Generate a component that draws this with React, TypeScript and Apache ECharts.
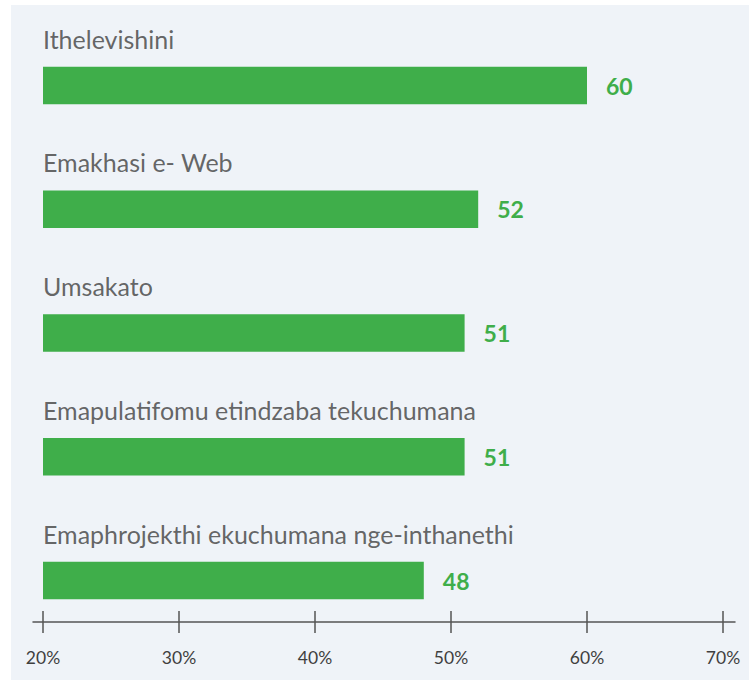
import React, { useEffect, useRef } from "react";
import * as echarts from "echarts";

const categories = [
  "Ithelevishini",
  "Emakhasi e- Web",
  "Umsakato",
  "Emapulatifomu etindzaba tekuchumana",
  "Emaphrojekthi ekuchumana nge-inthanethi",
];
const values = [60, 52, 51, 51, 48];
const axisMin = 20;
const axisMax = 70;
const axisStep = 10;

const GREEN = "#3fae4a";
const TEXT = "#3f3f3f";
const AXIS = "#555555";
const FONT = "Lato, 'Noto Sans', sans-serif";

export default function App() {
  const ref = useRef<HTMLDivElement>(null);
  useEffect(() => {
    if (!ref.current) return;
    const chart = echarts.init(ref.current, undefined, { renderer: "svg" });
    const gridTop = 85.5;
    const gridBottom = 99.5;
    chart.setOption({
      animation: false,
      backgroundColor: "transparent",
      graphic: [
        {
          type: "rect",
          left: 11,
          top: 5,
          shape: { width: 738, height: 675 },
          style: { fill: "#eff3f8" },
          z: -10,
          silent: true,
        },
      ],
      grid: [
        { left: 43, right: 26, top: gridTop, bottom: gridBottom },
        { left: 33, right: 14, top: gridTop, bottom: gridBottom },
      ],
      xAxis: [
        {
          type: "value",
          gridIndex: 0,
          min: axisMin,
          max: axisMax,
          interval: axisStep,
          position: "bottom",
          offset: 41.5,
          axisLine: { show: false },
          axisTick: { show: true, length: 11, inside: false, lineStyle: { color: AXIS, width: 1.5 } },
          splitLine: { show: false },
          axisLabel: {
            color: TEXT,
            fontFamily: FONT,
            fontSize: 17.5,
            margin: 26,
            formatter: (v: number) => v + "%",
          },
        },
        {
          type: "value",
          gridIndex: 0,
          min: axisMin,
          max: axisMax,
          interval: axisStep,
          position: "bottom",
          offset: 41.5,
          axisLine: { show: false },
          axisTick: { show: true, length: 11, inside: true, lineStyle: { color: AXIS, width: 1.5 } },
          splitLine: { show: false },
          axisLabel: { show: false },
        },
        {
          type: "value",
          gridIndex: 1,
          min: 0,
          max: 1,
          position: "bottom",
          offset: 41.5,
          axisLine: { show: true, lineStyle: { color: AXIS, width: 1.5 } },
          axisTick: { show: false },
          splitLine: { show: false },
          axisLabel: { show: false },
        },
      ],
      yAxis: [
        {
          type: "category",
          gridIndex: 0,
          data: categories,
          inverse: true,
          boundaryGap: false,
          axisLine: { show: false },
          axisTick: { show: false },
          splitLine: { show: false },
          axisLabel: { show: false },
        },
        {
          type: "category",
          gridIndex: 1,
          data: categories,
          show: false,
        },
      ],
      series: [
        {
          type: "bar",
          xAxisIndex: 0,
          yAxisIndex: 0,
          data: values,
          barWidth: 37.5,
          itemStyle: { color: GREEN },
          label: {
            show: true,
            position: "right",
            distance: 19,
            color: GREEN,
            fontFamily: FONT,
            fontWeight: "bold",
            fontSize: 23,
          },
        },
        {
          type: "scatter",
          xAxisIndex: 0,
          yAxisIndex: 0,
          symbolSize: 0,
          silent: true,
          z: 5,
          data: categories.map((c) => [axisMin, c]),
          label: {
            show: true,
            position: "right",
            distance: 0,
            offset: [0, -47],
            color: TEXT,
            fontFamily: FONT,
            fontSize: 25,
            formatter: (p: any) => p.value[1],
          },
        },
      ],
    });
    return () => chart.dispose();
  }, []);
  return (
    <div
      ref={ref}
      style={{ position: "fixed", left: 0, top: 0, width: 749, height: 680, background: "#ffffff" }}
    />
  );
}
